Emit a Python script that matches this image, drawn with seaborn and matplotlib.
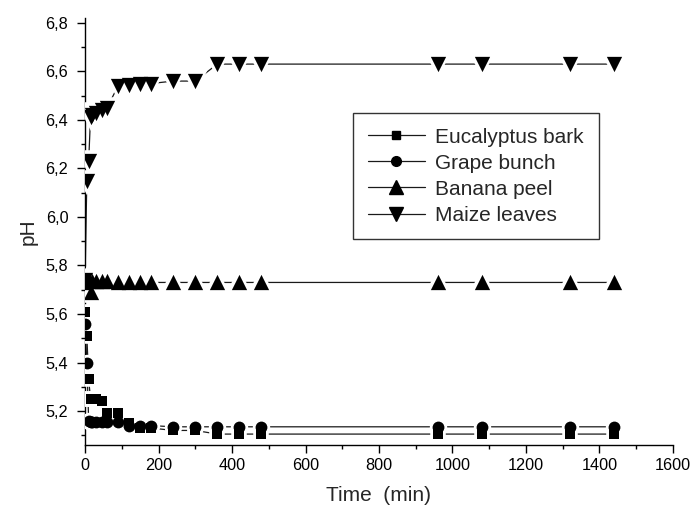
import matplotlib
matplotlib.use("Agg")
import matplotlib.pyplot as plt
import seaborn as sns
import pandas as pd
from matplotlib.lines import Line2D
from matplotlib.ticker import MultipleLocator, FuncFormatter

# ---- data ----
time = [0, 5, 10, 15, 20, 30, 45, 60, 90, 120, 150, 180, 240, 300, 360, 420, 480, 960, 1080, 1320, 1440]
eucalyptus = [5.61, 5.51, 5.33, 5.25, 5.25, 5.25, 5.24, 5.19, 5.19, 5.15, 5.13, 5.13, 5.12, 5.12,
              5.105, 5.105, 5.105, 5.105, 5.105, 5.105, 5.105]
grape = [5.56, 5.40, 5.16, 5.155, 5.155, 5.155, 5.155, 5.155, 5.155, 5.14, 5.14, 5.14, 5.135, 5.135,
         5.135, 5.135, 5.135, 5.135, 5.135, 5.135, 5.135]
banana = [5.73, 5.74, 5.74, 5.69, 5.735, 5.735, 5.735, 5.735, 5.73, 5.73, 5.73, 5.73, 5.73, 5.73,
          5.73, 5.73, 5.73, 5.73, 5.73, 5.73, 5.73]
maize = [5.74, 6.15, 6.23, 6.41, 6.42, 6.43, 6.44, 6.45, 6.54, 6.545, 6.55, 6.55, 6.56, 6.56,
         6.63, 6.63, 6.63, 6.63, 6.63, 6.63, 6.63]
series_names = ["Eucalyptus bark", "Grape bunch", "Banana peel", "Maize leaves"]
x_ticks = [0, 200, 400, 600, 800, 1000, 1200, 1400, 1600]
y_ticks = [5.2, 5.4, 5.6, 5.8, 6.0, 6.2, 6.4, 6.6, 6.8]

series = [eucalyptus, grape, banana, maize]
markers = ["s", "o", "^", "v"]
msizes = [7.5, 8.5, 11, 11]
leg_msizes = [6, 7, 9.5, 9.5]

sns.set_style("ticks")
plt.rcParams["font.family"] = ["Liberation Sans", "DejaVu Sans"]

fig = plt.figure(figsize=(6.92, 5.15), dpi=100)
ax = fig.add_axes([85 / 692, 1 - 445 / 515, (673 - 85) / 692, (445 - 18) / 515])

frames = [pd.DataFrame({"time": time, "pH": vals}) for vals in series]

# connecting lines
for df in frames:
    sns.lineplot(data=df, x="time", y="pH", ax=ax, color="#1a1a1a", lw=0.9,
                 sort=False, estimator=None, zorder=2)
# white halo to create gaps in lines around markers
for df, m, ms in zip(frames, markers, msizes):
    ax.plot(df["time"], df["pH"], ls="none", marker=m, ms=ms, mfc="white",
            mec="white", mew=4, zorder=3)
# black markers
for df, m, ms in zip(frames, markers, msizes):
    sns.scatterplot(data=df, x="time", y="pH", ax=ax, marker=m, color="black",
                    s=ms ** 2, edgecolor="black", linewidth=0, zorder=4, legend=False)

ax.set_xlim(0, 1600)
ax.set_ylim(5.06, 6.82)
ax.set_xticks(x_ticks)
ax.set_yticks(y_ticks)
ax.xaxis.set_minor_locator(MultipleLocator(100))
ax.yaxis.set_minor_locator(MultipleLocator(0.1))
ax.yaxis.set_major_formatter(FuncFormatter(lambda v, p: f"{v:.1f}".replace(".", ",")))

sns.despine(ax=ax)
for s in ["left", "bottom"]:
    ax.spines[s].set_linewidth(1.0)
    ax.spines[s].set_color("black")
ax.tick_params(axis="both", which="major", direction="out", length=5.5, width=1,
               labelsize=11.7, colors="black")
ax.tick_params(axis="x", which="major", pad=4)
ax.tick_params(axis="y", which="major", pad=6.5)
ax.tick_params(axis="both", which="minor", direction="out", length=3, width=1, colors="black")

ax.set_xlabel("Time  (min)", fontsize=15, labelpad=9)
ax.set_ylabel("pH", fontsize=15, labelpad=6)

handles = [Line2D([], [], color="#1a1a1a", lw=0.9, marker=m, ms=ms, mfc="black", mec="black")
           for m, ms in zip(markers, leg_msizes)]
leg = fig.legend(handles, series_names, loc="upper left",
                 bbox_to_anchor=(353 / 692, 1 - 113 / 515), frameon=True, fancybox=False,
                 edgecolor="black", fontsize=15, handlelength=2.75, handletextpad=0.5,
                 borderpad=0.7, labelspacing=0.34, borderaxespad=0)
leg.get_frame().set_linewidth(1.0)

fig.savefig("out.png", dpi=100)
